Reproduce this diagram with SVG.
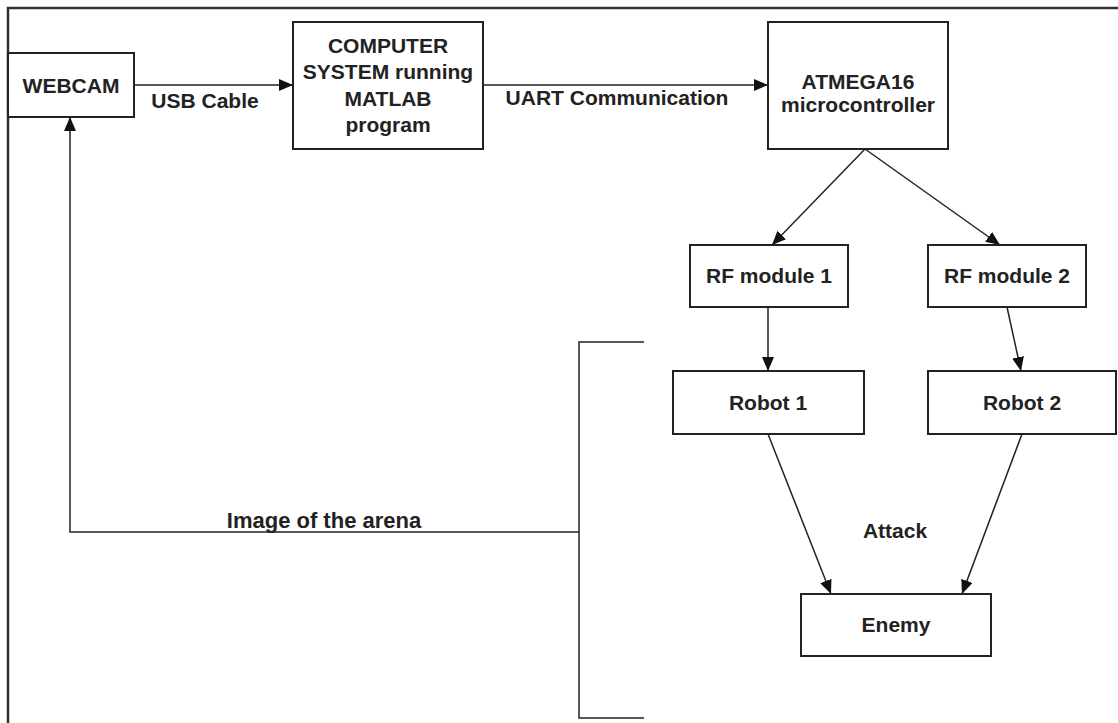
<svg xmlns="http://www.w3.org/2000/svg" width="1118" height="723" viewBox="0 0 1118 723">
<defs>
<style>
.box{fill:#fff;stroke:#222;stroke-width:2}
.ln{fill:none;stroke:#222;stroke-width:1.5}
.frame{fill:none;stroke:#333;stroke-width:2.5}
.t{font-family:"Liberation Sans",Arial,sans-serif;font-weight:bold;font-size:21px;fill:#222;text-anchor:middle}
</style>
<marker id="ah" viewBox="0 0 14 12" refX="14" refY="6" markerWidth="14" markerHeight="12" markerUnits="userSpaceOnUse" orient="auto">
<path d="M0,0 L14,6 L0,12 Z" fill="#111"/>
</marker>
</defs>
<rect width="1118" height="723" fill="#fff"/>
<path class="frame" d="M8,740 L8,8 L1130,8"/>
<g id="connectors">
<line class="ln" x1="134" y1="85" x2="293" y2="85" marker-end="url(#ah)"/>
<line class="ln" x1="483" y1="85" x2="768" y2="85" marker-end="url(#ah)"/>
<line class="ln" x1="865" y1="149" x2="772" y2="245" marker-end="url(#ah)"/>
<line class="ln" x1="865" y1="149" x2="1000" y2="245" marker-end="url(#ah)"/>
<line class="ln" x1="768" y1="307" x2="768" y2="371" marker-end="url(#ah)"/>
<line class="ln" x1="1007" y1="307" x2="1021" y2="371" marker-end="url(#ah)"/>
<line class="ln" x1="768" y1="434" x2="831" y2="594" marker-end="url(#ah)"/>
<line class="ln" x1="1022" y1="434" x2="962" y2="594" marker-end="url(#ah)"/>
<path class="ln" d="M644,342 L579,342 L579,718 L644,718"/>
<path class="ln" d="M579,532 L70,532 L70,117" marker-end="url(#ah)"/>
<text class="t" x="205" y="108">USB Cable</text>
<text class="t" x="617" y="105">UART Communication</text>
<text class="t" x="324" y="528" style="font-size:22px">Image of the arena</text>
<text class="t" x="895" y="538">Attack</text>
</g>
<g id="webcam"><rect class="box" x="8" y="53" width="126" height="64"/><text class="t" x="71" y="93">WEBCAM</text></g>
<g id="computer"><rect class="box" x="293" y="22" width="190" height="127"/>
<text class="t" x="388" y="53">COMPUTER</text><text class="t" x="388" y="79">SYSTEM running</text><text class="t" x="388" y="106">MATLAB</text><text class="t" x="388" y="132">program</text></g>
<g id="atmega"><rect class="box" x="768" y="22" width="180" height="127"/>
<text class="t" x="858" y="89">ATMEGA16</text><text class="t" x="858" y="112">microcontroller</text></g>
<g id="rf1"><rect class="box" x="690" y="245" width="158" height="62"/><text class="t" x="769" y="283">RF module 1</text></g>
<g id="rf2"><rect class="box" x="928" y="245" width="158" height="62"/><text class="t" x="1007" y="283">RF module 2</text></g>
<g id="robot1"><rect class="box" x="673" y="371" width="191" height="63"/><text class="t" x="768" y="410">Robot 1</text></g>
<g id="robot2"><rect class="box" x="928" y="371" width="188" height="63"/><text class="t" x="1022" y="410">Robot 2</text></g>
<g id="enemy"><rect class="box" x="801" y="594" width="190" height="62"/><text class="t" x="896" y="632">Enemy</text></g>
</svg>
